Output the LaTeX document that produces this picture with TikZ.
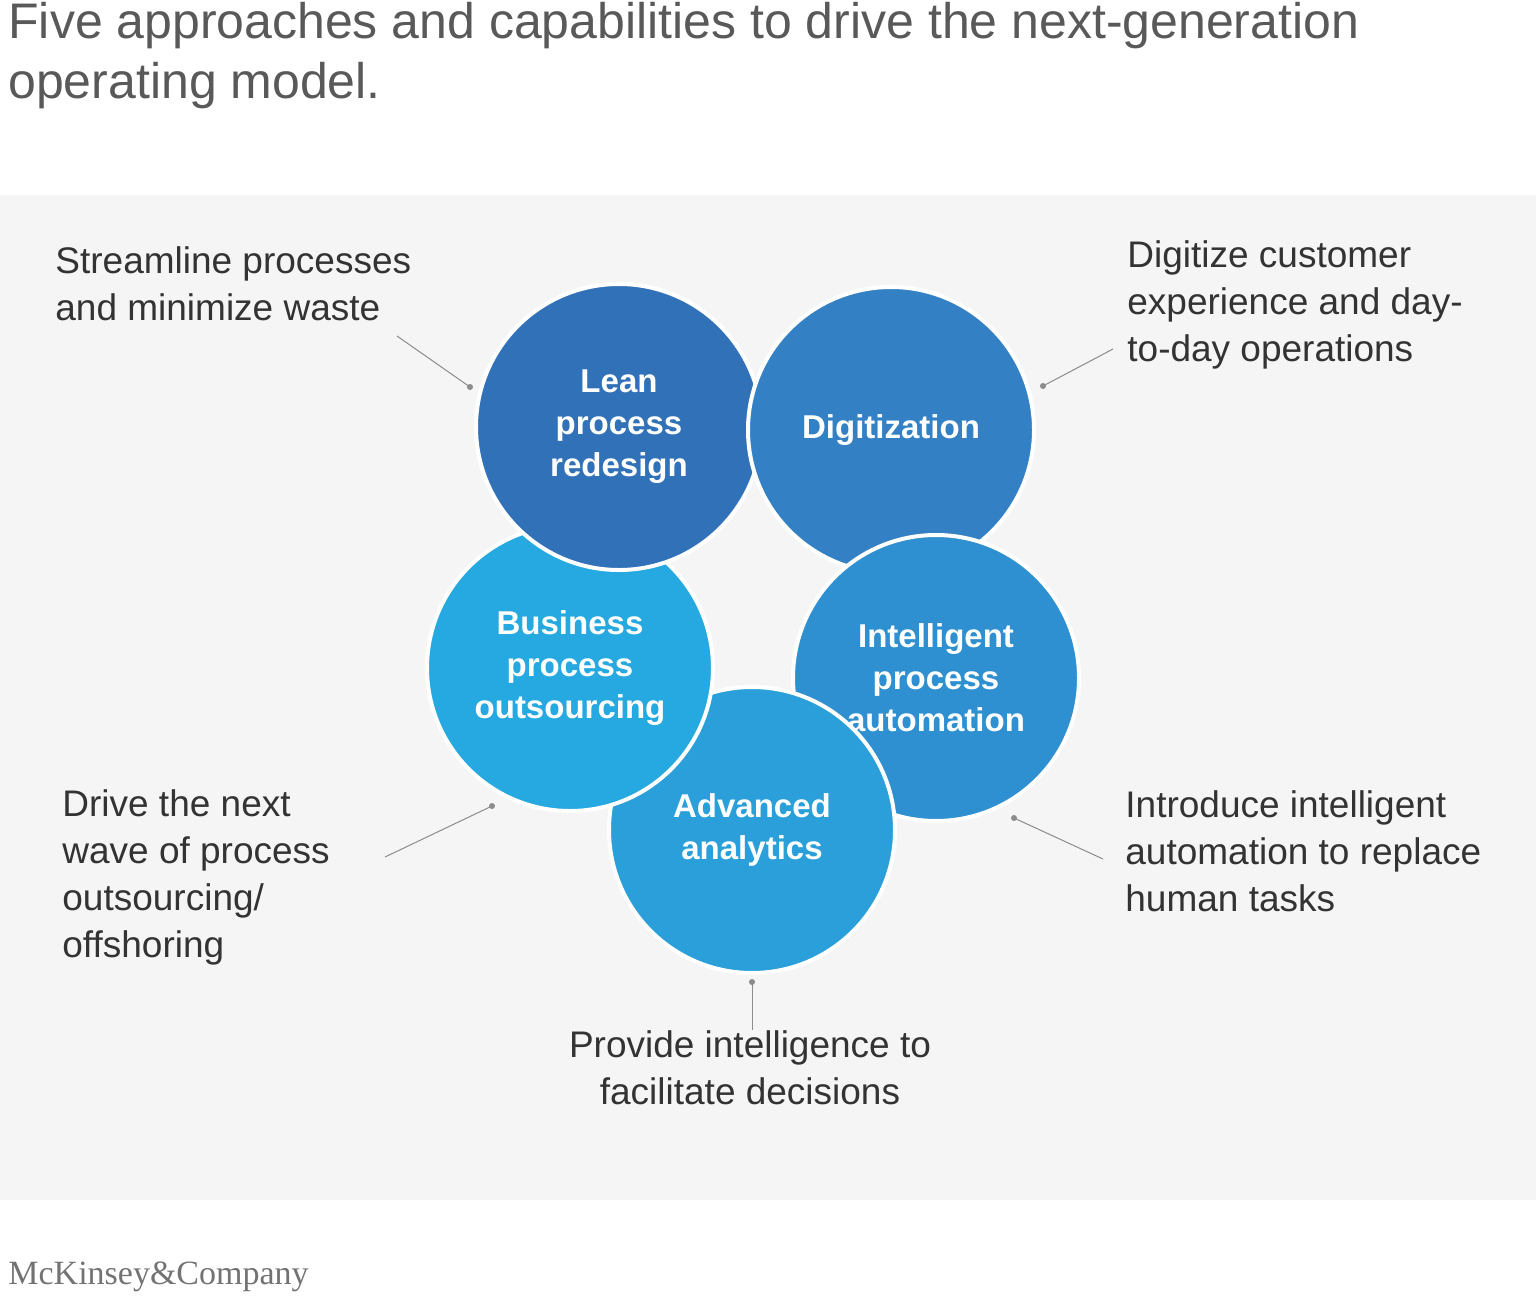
\documentclass[tikz,border=0pt]{standalone}
\usepackage{fontspec}
\setmainfont{Liberation Sans}
\newfontfamily\logofont{Liberation Serif}
\begin{document}
\begin{tikzpicture}[x=0.5pt,y=-0.5pt,
  blob/.style={circle,minimum size=143pt,inner sep=0pt,draw=white,line width=2pt,text=white,font=\fontsize{16.5}{21}\selectfont\bfseries,align=center},
  lbl/.style={font=\fontsize{18.5}{23.5}\selectfont,text=black!80,inner sep=0pt,align=left},
  lead/.style={draw=black!45,line width=0.5pt},
  dotc/.style={fill=black!45}]
\definecolor{cLean}{HTML}{3171B8}
\definecolor{cDig}{HTML}{3381C4}
\definecolor{cIPA}{HTML}{2E90D0}
\definecolor{cAna}{HTML}{2A9FD9}
\definecolor{cBPO}{HTML}{26A9E0}
\useasboundingbox (0,0) rectangle (1536,1301);
\fill[black!4] (0,195) rectangle (1536,1200);
\node[anchor=north west,inner sep=0pt,text=black!65,font=\fontsize{25}{30}\selectfont,align=left] (title) at (8,2) {Five approaches and capabilities to drive the next-generation\\operating model.};
\node[blob,fill=cLean] (lean) at (619,427) {Lean\\process\\redesign};
\node[blob,fill=cDig] (dig) at (891,430) {Digitization};
\node[blob,fill=cIPA] (ipa) at (936,678) {Intelligent\\process\\automation};
\node[blob,fill=cAna] (ana) at (752,830) {Advanced\\analytics};
\node[blob,fill=cBPO] (bpo) at (570,668) {Business\\process\\outsourcing};
\begin{scope}
\clip (400,250) rectangle (742,600);
\node[blob,fill=cLean] (lean2) at (619,427) {Lean\\process\\redesign};
\end{scope}
\node[lbl,anchor=north west] (tl) at (55,246) {Streamline processes\\and minimize waste};
\node[lbl,anchor=north west] (td) at (1127,240) {Digitize customer\\experience and day-\\to-day operations};
\node[lbl,anchor=north west] (tb) at (62,789) {Drive the next\\wave of process\\outsourcing/\\offshoring};
\node[lbl,anchor=north west] (ti) at (1125,790) {Introduce intelligent\\automation to replace\\human tasks};
\node[lbl,align=center,anchor=north] (ta) at (750,1030) {Provide intelligence to\\facilitate decisions};
\coordinate (l1) at (397,336); \coordinate (l2) at (470,387);
\coordinate (d1) at (1113,349); \coordinate (d2) at (1043,386);
\coordinate (b1) at (385,857); \coordinate (b2) at (492,806);
\coordinate (i1) at (1103,859); \coordinate (i2) at (1014,818);
\coordinate (a1) at (752,1030); \coordinate (a2) at (752,982);
\foreach \s/\e in {l1/l2,d1/d2,b1/b2,i1/i2,a1/a2}{
  \draw[lead] (\s) -- (\e);
  \fill[dotc] (\e) circle (1.5pt);
}
\node[anchor=west,inner sep=0pt,text=black!55,font=\logofont\fontsize{17}{20}\selectfont] (logo) at (8,1277) {McKinsey\&Company};
\end{tikzpicture}
\end{document}
